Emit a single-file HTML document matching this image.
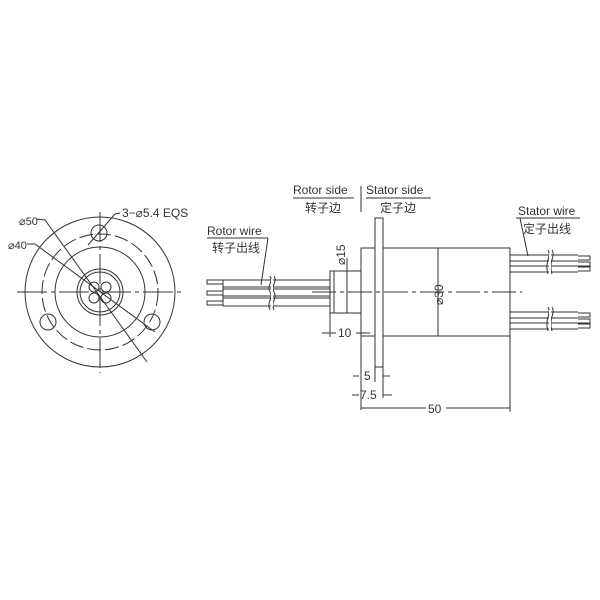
<!DOCTYPE html>
<html><head><meta charset="utf-8"><style>
body{margin:0;background:#fff}
svg{display:block}
text{font-family:"Liberation Sans","Noto Sans CJK SC",sans-serif;fill:#333}
</style></head><body>
<svg width="600" height="600" viewBox="0 0 600 600" xmlns="http://www.w3.org/2000/svg">
<rect width="600" height="600" fill="#fff"/>
<g stroke="#333" stroke-width="1" fill="none">
<!-- front view -->
<circle cx="100" cy="292" r="75"/>
<circle cx="100" cy="292" r="58" stroke-dasharray="14,4"/>
<circle cx="100" cy="292" r="45"/>
<circle cx="100" cy="292" r="23"/>
<circle cx="100" cy="292" r="20"/>
<circle cx="94" cy="287" r="5"/><circle cx="106" cy="287" r="5"/>
<circle cx="94" cy="298" r="5"/><circle cx="106" cy="298" r="5"/>
<circle cx="99" cy="233" r="8"/>
<circle cx="48" cy="322" r="8"/>
<circle cx="152" cy="322" r="8"/>
<line x1="17" y1="292" x2="183" y2="292" stroke-dasharray="30,4,4,4"/>
<line x1="100" y1="212" x2="100" y2="373" stroke-dasharray="30,4,4,4"/>
<polyline points="36,219 45,220 147,362"/>
<polyline points="27,244 35,244 155,332"/>
<polyline points="120,213 115,214 88,245"/>
<!-- side view: shaft -->
<rect x="330" y="271" width="31" height="42"/>
<line x1="334" y1="271" x2="334" y2="313"/>
<!-- body -->
<rect x="361" y="248" width="149" height="88"/>
<!-- flange -->
<rect x="375" y="218" width="8" height="149" fill="#fff"/>
<!-- center line -->
<line x1="312" y1="292" x2="522" y2="292" stroke-dasharray="24,4,4,4"/>
<!-- rotor wires -->
<rect x="207" y="280" width="16" height="4"/>
<rect x="207" y="291" width="16" height="4"/>
<rect x="207" y="301" width="16" height="4"/>
<path d="M223 280H330M223 287H330M223 289H330M223 296H330M223 298H330M223 306H330M223 280V306"/>
<path d="M270 276c4 6-4 10 0 16c4 6-4 10 0 18" stroke="#333"/>
<path d="M274 276c4 6-4 10 0 16c4 6-4 10 0 18" stroke="#333"/>
<rect x="271" y="279" width="2" height="28" fill="#fff" stroke="none"/>
<!-- stator wires -->
<path d="M510 255H578M510 261H578M510 266H578M510 272H578"/>
<path d="M510 312H578M510 318H578M510 323H578M510 329H578"/>
<path d="M578 256H590V260H578M578 262H590V266H578M578 267H590V271H578"/>
<path d="M578 313H590V317H578M578 319H590V323H578M578 324H590V328H578"/>
<path d="M548 250c4 6-4 12 0 24M552 250c4 6-4 12 0 24"/>
<path d="M548 307c4 6-4 12 0 24M552 307c4 6-4 12 0 24"/>
<rect x="549" y="253" width="2" height="20" fill="#fff" stroke="none"/>
<rect x="549" y="310" width="2" height="20" fill="#fff" stroke="none"/>
<!-- labels lines -->
<line x1="293" y1="198" x2="354" y2="198"/>
<line x1="366" y1="198" x2="431" y2="198"/>
<line x1="361" y1="186" x2="361" y2="212"/>
<line x1="207" y1="238" x2="268" y2="238"/>
<line x1="268" y1="238" x2="261" y2="285"/>
<line x1="516" y1="218" x2="580" y2="218"/>
<line x1="520" y1="218" x2="528" y2="256"/>
<!-- ø15 dim -->
<line x1="347" y1="258" x2="347" y2="313"/>
<line x1="361" y1="271" x2="343" y2="271" stroke-width="0.6"/>
<line x1="361" y1="313" x2="343" y2="313" stroke-width="0.6"/>
<!-- ø30 dim -->
<line x1="438" y1="248" x2="438" y2="336"/>
<!-- 10 dim -->
<line x1="330" y1="313" x2="330" y2="337"/>
<line x1="322" y1="333" x2="336" y2="333"/>
<line x1="356" y1="333" x2="370" y2="333"/>
<line x1="361" y1="336" x2="361" y2="410"/>
<!-- 5 dim -->
<line x1="383" y1="367" x2="383" y2="382"/>
<line x1="375" y1="367" x2="375" y2="382"/>
<line x1="353" y1="376" x2="359" y2="376"/>
<line x1="383" y1="376" x2="390" y2="376"/>
<!-- 7.5 dim -->
<line x1="383" y1="382" x2="383" y2="398"/>
<line x1="352" y1="395" x2="359" y2="395"/>
<line x1="383" y1="395" x2="392" y2="395"/>
<!-- 50 dim -->
<line x1="510" y1="336" x2="510" y2="412"/>
<line x1="361" y1="408" x2="426" y2="408"/>
<line x1="446" y1="408" x2="510" y2="408"/>
</g>
<g font-size="12">
<text x="19" y="225" font-size="11">⌀50</text>
<text x="8" y="249" font-size="11">⌀40</text>
<text x="122" y="217">3−⌀5.4 EQS</text>
<text x="293" y="194">Rotor side</text>
<text x="366" y="194">Stator side</text>
<text x="305" y="212" font-size="12">转子边</text>
<text x="380" y="212" font-size="12">定子边</text>
<text x="207" y="235">Rotor wire</text>
<text x="212" y="252" font-size="12">转子出线</text>
<text x="518" y="215">Stator wire</text>
<text x="523" y="233" font-size="12">定子出线</text>
<text x="338" y="337">10</text>
<text x="364" y="380">5</text>
<text x="360" y="399">7.5</text>
<text x="428" y="413">50</text>
<text transform="translate(345,265) rotate(-90)" x="0" y="0">⌀15</text>
<text transform="translate(443,305) rotate(-90)" x="0" y="0">⌀30</text>
</g>
</svg>
</body></html>
